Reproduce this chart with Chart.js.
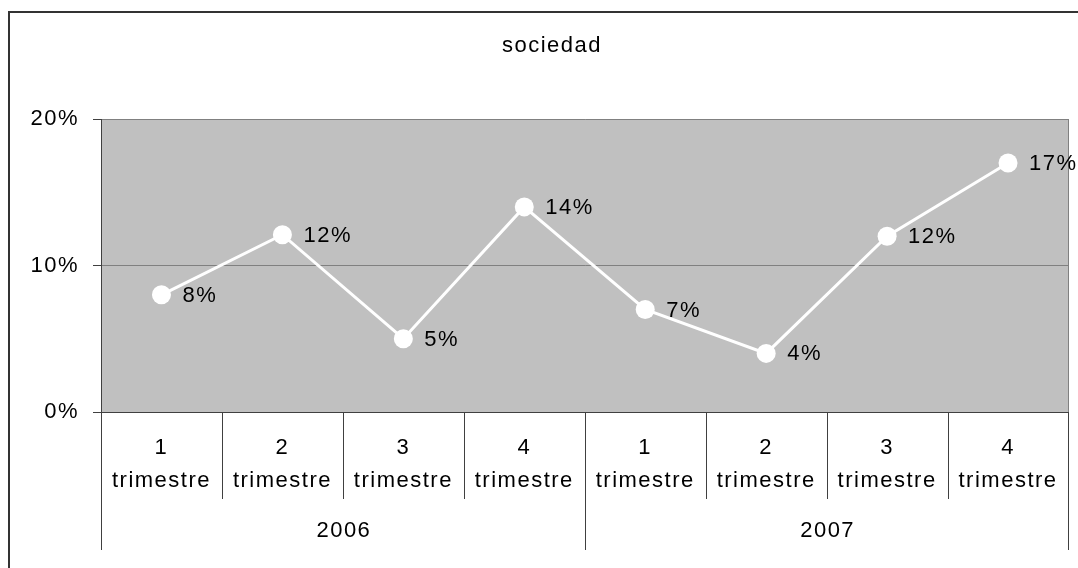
<!DOCTYPE html>
<html><head><meta charset="utf-8">
<script src="https://cdn.jsdelivr.net/npm/chart.js@4/dist/chart.umd.min.js"></script>
<style>html,body{margin:0;padding:0;background:#fff;overflow:hidden}canvas{display:block}</style>
</head><body>
<canvas id="c" width="1078" height="568"></canvas>
<script>
const chartTitle = 'sociedad';
const quarters = ['1','2','3','4','1','2','3','4'];
const quarterWord = 'trimestre';
const years = ['2006','2007'];
const quartersPerYear = 4;
const values = [0.08, 0.121, 0.05, 0.14, 0.07, 0.04, 0.12, 0.17];
const yMin = 0, yMax = 0.2, yStep = 0.1;

const labels = quarters.map(q => [q, quarterWord]);
const pct = v => Math.round(v * 100) + '%';
const FONT = '"Liberation Sans", Arial, sans-serif';
const FS = 22;
const AXIS = '#404040';

Chart.defaults.font.family = FONT;
Chart.defaults.font.size = FS;
Chart.defaults.color = '#000';

const decor = {
  id: 'decor',
  beforeDraw(chart) {
    const ctx = chart.ctx, a = chart.chartArea;
    ctx.letterSpacing = '1.5px';
    ctx.save();
    ctx.fillStyle = '#fff';
    ctx.fillRect(0, 0, chart.width, chart.height);
    ctx.strokeStyle = '#333';
    ctx.lineWidth = 2;
    ctx.strokeRect(9, 12, chart.width + 40, chart.height + 40);
    ctx.fillStyle = '#C0C0C0';
    ctx.fillRect(a.left, a.top, a.right - a.left, a.bottom - a.top);
    ctx.fillStyle = '#000';
    ctx.font = FS + 'px ' + FONT;
    ctx.textAlign = 'center';
    ctx.textBaseline = 'middle';
    ctx.fillText(chartTitle, 552, 46);
    ctx.restore();
  },
  afterDraw(chart) {
    const ctx = chart.ctx, a = chart.chartArea, xs = chart.scales.x;
    const n = quarters.length;
    const bx = i => i === 0 ? a.left : i === n ? a.right : (xs.getPixelForValue(i - 1) + xs.getPixelForValue(i)) / 2;
    ctx.save();
    ctx.lineWidth = 1;
    ctx.strokeStyle = '#808080';
    const rx = Math.round(a.right) - 0.5;
    ctx.beginPath(); ctx.moveTo(rx, a.top); ctx.lineTo(rx, a.bottom); ctx.stroke();
    ctx.strokeStyle = AXIS;
    for (let i = 0; i <= n; i++) {
      let x = Math.round(bx(i)) + 0.5;
      if (i === n) x = rx;
      const end = (i % quartersPerYear === 0) ? 550 : 499;
      ctx.beginPath(); ctx.moveTo(x, a.bottom); ctx.lineTo(x, end); ctx.stroke();
    }
    ctx.fillStyle = '#000';
    ctx.font = FS + 'px ' + FONT;
    ctx.textAlign = 'center';
    ctx.textBaseline = 'middle';
    years.forEach((y, g) => {
      const cx = (bx(g * quartersPerYear) + bx((g + 1) * quartersPerYear)) / 2;
      ctx.fillText(y, cx + 1, 531);
    });
    const meta = chart.getDatasetMeta(0);
    ctx.textAlign = 'left';
    meta.data.forEach((p, i) => {
      ctx.fillText(pct(values[i]), p.x + 21, p.y + 1);
    });
    ctx.restore();
  }
};

new Chart(document.getElementById('c'), {
  type: 'line',
  data: {
    labels: labels,
    datasets: [{
      data: values,
      borderColor: '#fff',
      borderWidth: 3,
      pointRadius: 9.5,
      pointBorderWidth: 0,
      pointBackgroundColor: '#fff',
      pointBorderColor: '#fff',
      tension: 0,
      clip: false
    }]
  },
  options: {
    responsive: false,
    devicePixelRatio: 1,
    animation: false,
    events: [],
    layout: { padding: { top: 119, right: 5, left: 0, bottom: 0 } },
    plugins: { legend: { display: false }, title: { display: false }, tooltip: { enabled: false } },
    scales: {
      x: {
        type: 'category',
        offset: true,
        afterFit: s => { s.height = 156; },
        grid: { display: true, drawOnChartArea: false, drawTicks: false, offset: true, color: 'rgba(0,0,0,0)' },
        border: { display: true, color: AXIS, width: 1 },
        ticks: { autoSkip: false, maxRotation: 0, minRotation: 0, padding: 19, font: { size: FS, lineHeight: 1.5 }, color: '#000' }
      },
      y: {
        min: yMin, max: yMax,
        afterFit: s => { s.width = 101; },
        grid: { color: '#808080', lineWidth: 1, drawTicks: true, tickLength: 8, tickColor: AXIS },
        border: { display: true, color: AXIS, width: 1 },
        ticks: { stepSize: yStep, padding: 14, callback: v => pct(v), color: '#000', font: { size: FS } }
      }
    }
  },
  plugins: [decor]
});
</script>
</body></html>
